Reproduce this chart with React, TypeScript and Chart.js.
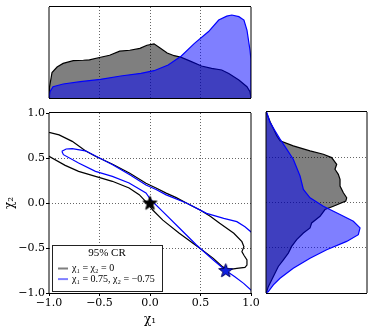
import React, { useEffect, useRef } from 'react';
import { Chart, registerables } from 'chart.js';

Chart.register(...registerables);

// ---------- data ----------
const AXIS_TICKS = [-1, -0.5, 0, 0.5, 1];

// 95% CR contour, true point chi1 = chi2 = 0 (black)
const BLACK_CR_X = [-1.08, -1.0, -0.9, -0.77, -0.64, -0.54, -0.37, -0.2, -0.04, 0.06, 0.16, 0.26, 0.36, 0.5, 0.6, 0.69, 0.83, 0.91, 0.93, 0.91, 0.93, 0.96, 0.96, 0.94, 0.86, 0.78, 0.72, 0.627, 0.49, 0.29, 0.127, 0.027, -0.02, -0.107, -0.207, -0.373, -0.54, -0.707, -0.84, -1.0, -1.08, -1.08];
const BLACK_CR_Y = [0.81, 0.785, 0.757, 0.685, 0.58, 0.52, 0.43, 0.33, 0.22, 0.167, 0.11, 0.06, 0.0, -0.08, -0.15, -0.226, -0.337, -0.43, -0.485, -0.54, -0.58, -0.633, -0.69, -0.715, -0.726, -0.74, -0.71, -0.615, -0.5, -0.337, -0.19, -0.078, -0.01, 0.093, 0.167, 0.241, 0.296, 0.352, 0.418, 0.52, 0.56, 0.81];

// 95% CR contour, true point chi1 = 0.75, chi2 = -0.75 (blue)
const BLUE_CR_X = [-0.873, -0.83, -0.77, -0.64, -0.5, -0.37, -0.2, -0.04, 0.06, 0.16, 0.36, 0.56, 0.73, 0.86, 0.94, 1.02, 1.08, 1.08, 1.02, 1.0, 0.927, 0.84, 0.75, 0.627, 0.46, 0.293, 0.127, 0.01, -0.04, -0.207, -0.373, -0.54, -0.707, -0.857, -0.873];
const BLUE_CR_Y = [0.574, 0.6, 0.605, 0.58, 0.5, 0.426, 0.315, 0.2, 0.15, 0.09, 0.0, -0.115, -0.17, -0.207, -0.263, -0.34, -0.4, -1.05, -0.99, -0.967, -0.893, -0.82, -0.75, -0.633, -0.467, -0.281, -0.096, 0.033, 0.111, 0.222, 0.296, 0.352, 0.444, 0.537, 0.574];

// true values (stars)
const TRUE_BLACK = { x: 0, y: 0 };
const TRUE_BLUE = { x: 0.75, y: -0.75 };

// marginal of chi1 (top panel), relative density
const TOP_BLACK_X = [-1.0, -0.995, -0.97, -0.92, -0.86, -0.76, -0.66, -0.6, -0.5, -0.4, -0.3, -0.2, -0.1, -0.03, 0.04, 0.1, 0.17, 0.24, 0.31, 0.41, 0.51, 0.61, 0.71, 0.78, 0.88, 0.96, 0.99, 1.0];
const TOP_BLACK_D = [0.0, 0.12, 0.28, 0.34, 0.38, 0.41, 0.415, 0.42, 0.445, 0.47, 0.515, 0.525, 0.545, 0.58, 0.595, 0.55, 0.495, 0.465, 0.447, 0.4, 0.352, 0.325, 0.308, 0.27, 0.198, 0.124, 0.07, 0.0];
const TOP_BLUE_X = [-1.0, -0.99, -0.96, -0.86, -0.69, -0.49, -0.29, -0.09, 0.04, 0.18, 0.31, 0.44, 0.58, 0.68, 0.76, 0.81, 0.88, 0.93, 0.96, 0.99, 1.0, 1.0];
const TOP_BLUE_D = [0.0, 0.07, 0.124, 0.154, 0.179, 0.205, 0.242, 0.271, 0.3, 0.363, 0.462, 0.6, 0.73, 0.857, 0.9, 0.912, 0.894, 0.857, 0.747, 0.527, 0.418, 0.0];

// marginal of chi2 (right panel), relative density
const RIGHT_BLACK_Y = [1.0, 0.95, 0.88, 0.8, 0.737, 0.681, 0.626, 0.57, 0.533, 0.496, 0.422, 0.367, 0.311, 0.256, 0.181, 0.108, 0.052, 0.015, -0.041, -0.078, -0.152, -0.226, -0.281, -0.337, -0.411, -0.485, -0.559, -0.633, -0.707, -0.781, -0.856, -0.93, -0.985, -1.0];
const RIGHT_BLACK_D = [0.0, 0.02, 0.045, 0.08, 0.106, 0.139, 0.27, 0.436, 0.568, 0.65, 0.7, 0.683, 0.716, 0.733, 0.733, 0.766, 0.799, 0.79, 0.667, 0.584, 0.535, 0.452, 0.436, 0.37, 0.304, 0.254, 0.221, 0.172, 0.122, 0.089, 0.056, 0.023, 0.007, 0.0];
const RIGHT_BLUE_Y = [1.0, 0.997, 0.885, 0.793, 0.7, 0.589, 0.478, 0.293, 0.144, 0.052, -0.041, -0.133, -0.207, -0.281, -0.356, -0.43, -0.522, -0.615, -0.726, -0.837, -0.911, -0.985, -1.0];
const RIGHT_BLUE_D = [0.0, 0.007, 0.04, 0.089, 0.139, 0.205, 0.27, 0.337, 0.37, 0.436, 0.568, 0.733, 0.865, 0.931, 0.914, 0.799, 0.601, 0.436, 0.27, 0.139, 0.073, 0.023, 0.0];

const LEGEND_TITLE = '95% CR';
const LEGEND_LABELS = ['\u03c7\u2081 = \u03c7\u2082 = 0', '\u03c7\u2081 = 0.75, \u03c7\u2082 = \u22120.75'];
const X_TITLE = '\u03c7\u2081';
const Y_TITLE = '\u03c7\u2082';

// ---------- styles ----------
const TICK_FONT = "'DejaVu Serif', serif";
const LEGEND_FONT = "'Liberation Serif', 'DejaVu Serif', serif";
const BLACK_LINE = '#000000';
const BLUE_LINE = '#0000ff';
const BLACK_FILL = 'rgba(0,0,0,0.5)';
const BLUE_FILL = 'rgba(0,0,255,0.5)';
const LEGEND_COLORS = ['rgba(0,0,0,0.5)', 'rgba(0,0,255,0.5)'];
const GRID_DASH = [1, 2];

const zip = (xs: number[], ys: number[]) => xs.map((x, i) => ({ x, y: ys[i] }));
const fmt = (v: number) => (v < 0 ? '\u2212' : '') + Math.abs(v).toFixed(1);
const gridColor = (c: any) => {
  const v = c.tick ? c.tick.value : 0;
  return v === -1 || v === 1 ? 'rgba(0,0,0,0)' : 'rgba(0,0,0,0.6)';
};
const setTicks = (scale: any) => {
  scale.ticks = AXIS_TICKS.map((value) => ({ value }));
};

const framePlugin = {
  id: 'frame',
  afterDraw(chart: any) {
    const { ctx, chartArea: a } = chart;
    ctx.save();
    ctx.strokeStyle = '#000';
    ctx.lineWidth = 1;
    ctx.beginPath();
    ctx.moveTo(a.left, a.top - 0.5);
    ctx.lineTo(a.right, a.top - 0.5);
    ctx.moveTo(a.left, a.bottom + 0.5);
    ctx.lineTo(a.right, a.bottom + 0.5);
    ctx.moveTo(a.left, a.top);
    ctx.lineTo(a.left, a.bottom);
    ctx.moveTo(a.right, a.top);
    ctx.lineTo(a.right, a.bottom);
    ctx.stroke();
    ctx.restore();
  },
};

const legendPlugin = {
  id: 'crLegend',
  afterDraw(chart: any) {
    const { ctx, chartArea: a } = chart;
    const w = 110;
    const h = 46;
    const x = a.left + 3;
    const y = a.bottom - 2 - h;
    ctx.save();
    ctx.fillStyle = '#fff';
    ctx.fillRect(x, y, w, h);
    ctx.strokeStyle = '#222';
    ctx.lineWidth = 1;
    ctx.strokeRect(x + 0.5, y + 0.5, w, h);
    ctx.fillStyle = '#000';
    ctx.textBaseline = 'middle';
    ctx.textAlign = 'center';
    ctx.font = `11px ${LEGEND_FONT}`;
    ctx.fillText(LEGEND_TITLE, x + w / 2, y + 8.5);
    ctx.textAlign = 'left';
    ctx.font = `10px ${LEGEND_FONT}`;
    LEGEND_LABELS.forEach((label, i) => {
      const cy = y + 23.5 + i * 10.6;
      ctx.strokeStyle = LEGEND_COLORS[i];
      ctx.lineWidth = 2;
      ctx.beginPath();
      ctx.moveTo(x + 6, cy);
      ctx.lineTo(x + 16, cy);
      ctx.stroke();
      ctx.fillStyle = '#000';
      ctx.fillText(label, x + 20, cy, w - 22);
    });
    ctx.restore();
  },
};

function makeStar(fill: string, stroke: string) {
  const c = document.createElement('canvas');
  c.width = 17;
  c.height = 17;
  const g = c.getContext('2d')!;
  g.beginPath();
  for (let i = 0; i < 10; i++) {
    const r = i % 2 === 0 ? 7.3 : 3.0;
    const ang = -Math.PI / 2 + (i * Math.PI) / 5;
    const px = 8.5 + r * Math.cos(ang);
    const py = 9 + r * Math.sin(ang);
    if (i === 0) g.moveTo(px, py);
    else g.lineTo(px, py);
  }
  g.closePath();
  g.fillStyle = fill;
  g.fill();
  g.strokeStyle = stroke;
  g.lineWidth = 1;
  g.stroke();
  return c;
}

export default function App() {
  const topRef = useRef<HTMLCanvasElement>(null);
  const mainRef = useRef<HTMLCanvasElement>(null);
  const rightRef = useRef<HTMLCanvasElement>(null);

  useEffect(() => {
    const charts: Chart[] = [];

    // main panel
    const starBlack = makeStar('#000000', '#000000');
    const starBlue = makeStar('#1020e0', '#000060');
    charts.push(
      new Chart(mainRef.current!, {
        type: 'scatter',
        data: {
          datasets: [
            {
              data: [TRUE_BLACK, TRUE_BLUE],
              pointStyle: [starBlack, starBlue] as any,
              pointRadius: 7,
              showLine: false,
            } as any,
            {
              data: zip(BLUE_CR_X, BLUE_CR_Y),
              showLine: true,
              borderColor: BLUE_LINE,
              borderWidth: 1.2,
              pointRadius: 0,
              fill: false,
            },
            {
              data: zip(BLACK_CR_X, BLACK_CR_Y),
              showLine: true,
              borderColor: BLACK_LINE,
              borderWidth: 1.2,
              pointRadius: 0,
              fill: false,
            },
          ],
        },
        options: {
          animation: false,
          responsive: false,
          devicePixelRatio: 1,
          layout: { padding: { left: 0, top: 13, right: 11, bottom: 0 } },
          plugins: { legend: { display: false }, tooltip: { enabled: false } },
          scales: {
            x: {
              type: 'linear',
              min: -1,
              max: 1,
              afterBuildTicks: setTicks,
              afterFit: (s: any) => {
                s.height = 37;
              },
              ticks: {
                callback: (v: any) => fmt(Number(v)),
                color: '#000',
                font: { family: TICK_FONT, size: 11 },
                padding: 1,
                maxRotation: 0,
              },
              grid: { color: gridColor, tickColor: '#000', tickLength: 3, drawTicks: true },
              border: { display: false, dash: GRID_DASH },
              title: { display: true, text: X_TITLE, color: '#000', font: { family: TICK_FONT, size: 12 }, padding: { top: 0, bottom: 3 } },
            },
            y: {
              type: 'linear',
              min: -1,
              max: 1,
              afterBuildTicks: setTicks,
              afterFit: (s: any) => {
                s.width = 49;
              },
              ticks: {
                callback: (v: any) => fmt(Number(v)),
                color: '#000',
                font: { family: TICK_FONT, size: 11 },
                padding: 1,
              },
              grid: { color: gridColor, tickColor: '#000', tickLength: 3, drawTicks: true },
              border: { display: false, dash: GRID_DASH },
              title: { display: true, text: Y_TITLE, color: '#000', font: { family: TICK_FONT, size: 12 }, padding: { top: 3, bottom: 0 } },
            },
          },
        } as any,
        plugins: [framePlugin, legendPlugin],
      })
    );

    // top marginal
    charts.push(
      new Chart(topRef.current!, {
        type: 'line',
        data: {
          datasets: [
            {
              data: zip(TOP_BLUE_X, TOP_BLUE_D),
              borderColor: BLUE_LINE,
              backgroundColor: BLUE_FILL,
              borderWidth: 1.2,
              pointRadius: 0,
              fill: 'origin',
            },
            {
              data: zip(TOP_BLACK_X, TOP_BLACK_D),
              borderColor: BLACK_LINE,
              backgroundColor: BLACK_FILL,
              borderWidth: 1.2,
              pointRadius: 0,
              fill: 'origin',
            },
          ],
        },
        options: {
          animation: false,
          responsive: false,
          devicePixelRatio: 1,
          layout: { padding: { left: 49, top: 7, right: 11, bottom: 2 } },
          plugins: { legend: { display: false }, tooltip: { enabled: false } },
          scales: {
            x: {
              type: 'linear',
              min: -1,
              max: 1,
              afterBuildTicks: setTicks,
              afterFit: (s: any) => {
                s.height = 0;
              },
              ticks: { display: false },
              grid: { color: gridColor, drawTicks: false },
              border: { display: false, dash: GRID_DASH },
            },
            y: { type: 'linear', min: 0, max: 1, display: false },
          },
        } as any,
        plugins: [framePlugin],
      })
    );

    // right marginal
    charts.push(
      new Chart(rightRef.current!, {
        type: 'line',
        data: {
          datasets: [
            {
              data: zip(RIGHT_BLUE_D, RIGHT_BLUE_Y),
              borderColor: BLUE_LINE,
              backgroundColor: BLUE_FILL,
              borderWidth: 1.2,
              pointRadius: 0,
              fill: 'origin',
            },
            {
              data: zip(RIGHT_BLACK_D, RIGHT_BLACK_Y),
              borderColor: BLACK_LINE,
              backgroundColor: BLACK_FILL,
              borderWidth: 1.2,
              pointRadius: 0,
              fill: 'origin',
            },
          ],
        },
        options: {
          animation: false,
          responsive: false,
          devicePixelRatio: 1,
          indexAxis: 'y',
          layout: { padding: { left: 4, top: 12, right: 7, bottom: 37 } },
          plugins: { legend: { display: false }, tooltip: { enabled: false } },
          scales: {
            x: { type: 'linear', min: 0, max: 1, display: false },
            y: {
              type: 'linear',
              min: -1,
              max: 1,
              afterBuildTicks: setTicks,
              afterFit: (s: any) => {
                s.width = 0;
              },
              ticks: { display: false },
              grid: { color: gridColor, drawTicks: false },
              border: { display: false, dash: GRID_DASH },
            },
          },
        } as any,
        plugins: [framePlugin],
      })
    );

    return () => {
      charts.forEach((c) => c.destroy());
    };
  }, []);

  return (
    <div style={{ position: 'absolute', left: 0, top: 0, width: 374, height: 330, background: '#fff', overflow: 'hidden' }}>
      <canvas ref={topRef} width={262} height={100} style={{ position: 'absolute', left: 0, top: 0, width: 262, height: 100 }} />
      <canvas ref={mainRef} width={262} height={230} style={{ position: 'absolute', left: 0, top: 100, width: 262, height: 230 }} />
      <canvas ref={rightRef} width={112} height={230} style={{ position: 'absolute', left: 262, top: 100, width: 112, height: 230 }} />
    </div>
  );
}
